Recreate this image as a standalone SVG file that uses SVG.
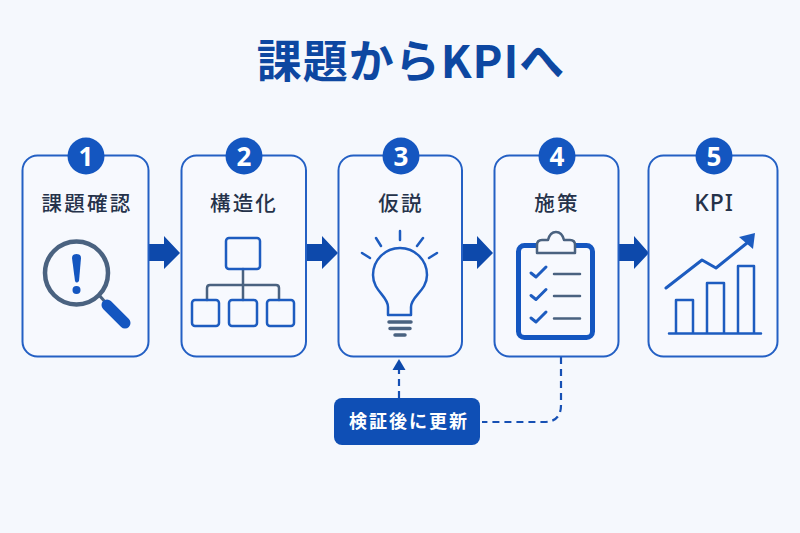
<svg xmlns="http://www.w3.org/2000/svg" width="800" height="533" viewBox="0 0 800 533">
<defs>
<style>
text{font-family:"Noto Sans CJK JP","Noto Sans",sans-serif;text-anchor:middle}
.title{font-size:45px;font-weight:700;fill:#0d47a1;letter-spacing:1px}
.label{font-size:20.500px;font-weight:500;fill:#25324a;letter-spacing:2.200px}
.num{font-size:26px;font-weight:700;fill:#fff;font-family:"Noto Sans","Liberation Sans",sans-serif}
.card{fill:#f7f9fe;stroke:#2460c4;stroke-width:2}
.badge{fill:#1456c0}
.blue{fill:none;stroke:#1d5cc0;stroke-width:2.500;stroke-linejoin:round;stroke-linecap:round}
.slate{fill:none;stroke:#4a6280;stroke-linecap:round;stroke-linejoin:round}
.flow{fill:#0d49ab}
.dash{fill:none;stroke:#1650b4;stroke-width:2.200;stroke-dasharray:7 5}
</style>
</defs>
<rect width="800" height="533" fill="#f5f8fd"/>
<text class="title" x="411" y="78">課題からKPIへ</text>
<g id="connectors">
<path class="flow" d="M149 244H164V236L180 253L164 269V261H149Z"/>
<path class="flow" d="M306 244H322V236L338 253L322 269V261H306Z"/>
<path class="flow" d="M462 244H477V236L493 253L477 269V261H462Z"/>
<path class="flow" d="M619 244H634V236L649 253L634 269V261H619Z"/>
<path class="dash" d="M399 398V369"/>
<path class="flow" d="M399 359L405.500 370H392.500Z"/>
<path class="dash" d="M561 357V405Q561 422 544 422H482"/>
</g>
<g id="node1">
<rect class="card" x="22.500" y="155.500" width="126" height="201" rx="15"/>
<circle class="badge" cx="86" cy="156" r="18.500"/>
<text class="num" x="86" y="165.500">1</text>
<text class="label" x="87" y="211">課題確認</text>
<path class="slate" stroke-width="3" d="M99 295L106 303"/>
<circle class="slate" cx="76.500" cy="273" r="31.500" stroke-width="4.500"/>
<path fill="none" stroke="#1456c0" stroke-width="11" stroke-linecap="round" d="M107 305L125 323"/>
<path fill="#1456c0" d="M72 258Q72 254 76.500 254Q81 254 81 258L79 281Q76.500 284 75 281Z"/>
<circle fill="#1456c0" cx="76.500" cy="290" r="4"/>
</g>
<g id="node2">
<rect class="card" x="181.500" y="155.500" width="124.500" height="201" rx="15"/>
<circle class="badge" cx="244" cy="156" r="18.500"/>
<text class="num" x="244" y="165.500">2</text>
<text class="label" x="244" y="211">構造化</text>
<path class="slate" stroke-width="2.500" d="M243 269V300M207 300V288Q207 285 210 285H276Q279 285 279 288V300"/>
<rect class="blue" x="226" y="238" width="34" height="31" rx="3"/>
<rect class="blue" x="192" y="300" width="27" height="26" rx="3"/>
<rect class="blue" x="229" y="300" width="28" height="26" rx="3"/>
<rect class="blue" x="267" y="300" width="27" height="26" rx="3"/>
</g>
<g id="node3">
<rect class="card" x="338.500" y="155.500" width="123.500" height="201" rx="15"/>
<circle class="badge" cx="401" cy="156" r="18.500"/>
<text class="num" x="401" y="165.500">3</text>
<text class="label" x="401" y="211">仮説</text>
<path class="blue" d="M388 315V307C388 296 373 291 373 275A27 27 0 0 1 427 275C427 291 411 296 411 307V315Z"/>
<path class="blue" d="M400 231V240M376 238L381 246M423 238L417 246M362 253L370 258M437 253L429 258"/>
<path class="slate" stroke-width="3.500" d="M389 322H411M390 328.500H410"/>
<path class="slate" stroke-width="3.500" d="M395 335H405"/>
</g>
<g id="node4">
<rect class="card" x="494.500" y="155.500" width="124" height="201" rx="15"/>
<circle class="badge" cx="557" cy="156" r="18.500"/>
<text class="num" x="557" y="165.500">4</text>
<text class="label" x="557" y="211">施策</text>
<rect x="518.500" y="245.500" width="74" height="92" rx="6" fill="none" stroke="#1456c0" stroke-width="5"/>
<path d="M537 253V245Q537 240 542 240H548Q550 232 556 232Q562 232 564 240H570Q575 240 575 245V253Z" fill="#f7f9fe" stroke="#4a6280" stroke-width="2.500" stroke-linejoin="round"/>
<path class="blue" stroke-width="3" style="stroke-width:3" d="M531 273L536 277L546 267M531 295.500L536 299.500L546 289.500M531 318L536 322L546 312"/>
<path class="slate" stroke-width="2.500" d="M554 274H580M554 296H580M554 318.500H580"/>
</g>
<g id="node5">
<rect class="card" x="648.500" y="155.500" width="129" height="201" rx="15"/>
<circle class="badge" cx="714" cy="156" r="18.500"/>
<text class="num" x="714" y="165.500">5</text>
<text x="714" y="211" style="font-size:23px;font-weight:500;fill:#25324a;letter-spacing:1px;font-family:'Noto Sans',sans-serif">KPI</text>
<path class="blue" style="stroke-width:3" d="M666 288L702 260L716 268L747 243"/>
<path fill="#1d5cc0" d="M755 233L739 237L753 249Z"/>
<path class="blue" d="M676 333V300H693V333M707 333V283H724V333M738 333V266H754V333M669 333.500H761"/>
</g>
<g id="node6">
<rect x="334" y="398" width="146" height="47" rx="8" fill="#0f4fb5"/>
<text x="409" y="428" style="font-size:18px;font-weight:700;fill:#fff;letter-spacing:2px">検証後に更新</text>
</g>
</svg>
